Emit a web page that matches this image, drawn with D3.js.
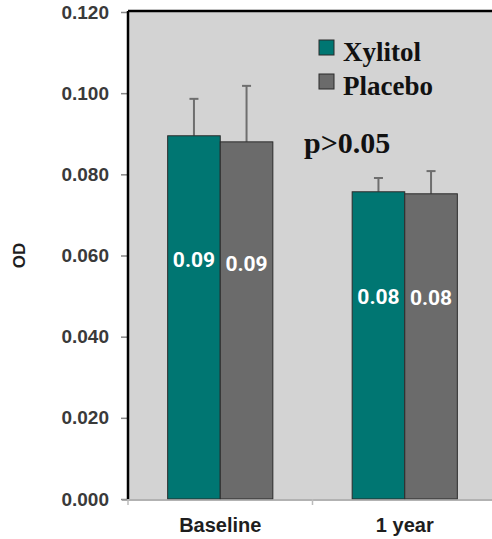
<!DOCTYPE html>
<html>
<head>
<meta charset="utf-8">
<script src="https://cdn.jsdelivr.net/npm/d3@7"></script>
<style>
  html, body { margin: 0; padding: 0; background: #fff; }
</style>
</head>
<body>
<div id="chart"></div>
<script>
// OD by group, baseline vs 1 year
const categories = ["Baseline", "1 year"];
const groups = ["Xylitol", "Placebo"];
const means = {
    Xylitol: [0.0895, 0.0757],
    Placebo: [0.0880, 0.0752]
};
const errUpper = {
    Xylitol: [0.0986, 0.0791],
    Placebo: [0.1018, 0.0808]
};
const valueLabels = {
    Xylitol: ["0.09", "0.08"],
    Placebo: ["0.09", "0.08"]
};
const yTicks = [0, 0.02, 0.04, 0.06, 0.08, 0.10, 0.12];

(function () {
    const width = 492, height = 539;
    const plot = { left: 128, right: 497, top: 12, bottom: 499 };

    const svg = d3.select("#chart").append("svg")
        .attr("width", width)
        .attr("height", height);

    const colors = d3.scaleOrdinal().domain(groups).range(["#007672", "#6b6b6b"]);

    const y = d3.scaleLinear().domain([0, 0.12]).range([plot.bottom, plot.top]);

    const x0 = d3.scaleBand()
        .domain(categories)
        .range([plot.left, plot.right])
        .paddingInner(0.43)
        .paddingOuter(0.215);

    const x1 = d3.scaleBand()
        .domain(groups)
        .range([0, x0.bandwidth()]);

    // plot background
    svg.append("rect")
        .attr("x", plot.left)
        .attr("y", plot.top)
        .attr("width", plot.right - plot.left)
        .attr("height", plot.bottom - plot.top)
        .attr("fill", "#d3d3d3");

    // flatten into rows
    const rows = [];
    categories.forEach((c, i) => {
        groups.forEach(g => {
            rows.push({ cat: c, group: g, value: means[g][i], hi: errUpper[g][i], label: valueLabels[g][i] });
        });
    });

    // error bars (upper only) behind bars
    const err = svg.append("g").attr("stroke", "#6e6e6e").attr("stroke-width", 2);
    rows.forEach(d => {
        const cx = x0(d.cat) + x1(d.group) + x1.bandwidth() / 2;
        err.append("line")
            .attr("x1", cx).attr("x2", cx)
            .attr("y1", y(d.value)).attr("y2", y(d.hi));
        err.append("line")
            .attr("x1", cx - 4.5).attr("x2", cx + 4.5)
            .attr("y1", y(d.hi)).attr("y2", y(d.hi));
    });

    // bars
    svg.append("g").selectAll("rect")
        .data(rows)
        .join("rect")
        .attr("x", d => x0(d.cat) + x1(d.group))
        .attr("y", d => y(d.value))
        .attr("width", x1.bandwidth())
        .attr("height", d => y(0) - y(d.value))
        .attr("fill", d => colors(d.group))
        .attr("stroke", "#2b2b2b")
        .attr("stroke-width", 1);

    // value labels inside bars
    svg.append("g").selectAll("text")
        .data(rows)
        .join("text")
        .attr("x", d => x0(d.cat) + x1(d.group) + x1.bandwidth() / 2)
        .attr("y", d => y(d.value * 0.66))
        .attr("dy", "0.36em")
        .attr("text-anchor", "middle")
        .style("font-family", "Roboto, 'Liberation Sans', sans-serif")
        .style("font-weight", "bold")
        .style("font-size", "21px")
        .style("fill", "#ffffff")
        .text(d => d.label);

    // y axis
    const yAxis = svg.append("g")
        .attr("transform", `translate(${plot.left},0)`)
        .call(d3.axisLeft(y).tickValues(yTicks).tickFormat(d3.format(".3f")).tickSize(7).tickPadding(12));
    yAxis.select(".domain").remove();
    yAxis.selectAll(".tick line").attr("stroke", "#888").attr("stroke-width", 1.5);
    yAxis.selectAll(".tick text")
        .style("font-family", "'Liberation Sans', Arial, sans-serif")
        .style("font-weight", "bold")
        .style("font-size", "19px")
        .style("fill", "#3a3a3a");

    // x axis
    const xAxis = svg.append("g")
        .attr("transform", `translate(0,${plot.bottom})`)
        .call(d3.axisBottom(x0).tickSize(0).tickPadding(19));
    xAxis.select(".domain").remove();
    xAxis.selectAll(".tick text")
        .style("font-family", "'Liberation Sans', Arial, sans-serif")
        .style("font-weight", "bold")
        .style("font-size", "20px")
        .style("fill", "#1e1e1e");

    svg.append("line")
        .attr("x1", plot.left - 6).attr("x2", width)
        .attr("y1", plot.bottom + 1).attr("y2", plot.bottom + 1)
        .attr("stroke", "#999").attr("stroke-width", 1.5);
    // x tick separators between categories
    const seps = [plot.left, (x0(categories[0]) + x0.bandwidth() + x0(categories[1])) / 2];
    svg.append("g").selectAll("line")
        .data(seps)
        .join("line")
        .attr("x1", d => d).attr("x2", d => d)
        .attr("y1", plot.bottom).attr("y2", plot.bottom + 6)
        .attr("stroke", "#bbb").attr("stroke-width", 1.5);

    // frame: left and top black lines
    svg.append("line")
        .attr("x1", plot.left).attr("x2", plot.left)
        .attr("y1", plot.top - 1).attr("y2", plot.bottom)
        .attr("stroke", "#000").attr("stroke-width", 2.5);
    svg.append("line")
        .attr("x1", plot.left).attr("x2", width)
        .attr("y1", plot.top - 1).attr("y2", plot.top - 1)
        .attr("stroke", "#000").attr("stroke-width", 2.5);

    // y title
    svg.append("text")
        .attr("transform", `translate(25,${(plot.top + plot.bottom) / 2}) rotate(-90)`)
        .attr("text-anchor", "middle")
        .style("font-family", "'Liberation Sans', Arial, sans-serif")
        .style("font-weight", "bold")
        .style("font-size", "17px")
        .style("fill", "#1e1e1e")
        .text("OD");

    // legend
    const legend = svg.append("g").attr("transform", "translate(319,40)");
    groups.forEach((g, i) => {
        const row = legend.append("g").attr("transform", `translate(0,${i * 34})`);
        row.append("rect")
            .attr("width", 15).attr("height", 15)
            .attr("fill", colors(g))
            .attr("stroke", "#2b2b2b").attr("stroke-width", 1);
        row.append("text")
            .attr("x", 24).attr("y", 21)
            .style("font-family", "'Liberation Serif', 'Times New Roman', serif")
            .style("font-weight", "bold")
            .style("font-size", "27px")
            .style("fill", "#111")
            .text(g);
    });

    svg.append("text")
        .attr("x", 304).attr("y", 153)
        .style("font-family", "'Liberation Serif', 'Times New Roman', serif")
        .style("font-weight", "bold")
        .style("font-size", "30px")
        .style("fill", "#111")
        .text("p>0.05");
})();
</script>
</body>
</html>
